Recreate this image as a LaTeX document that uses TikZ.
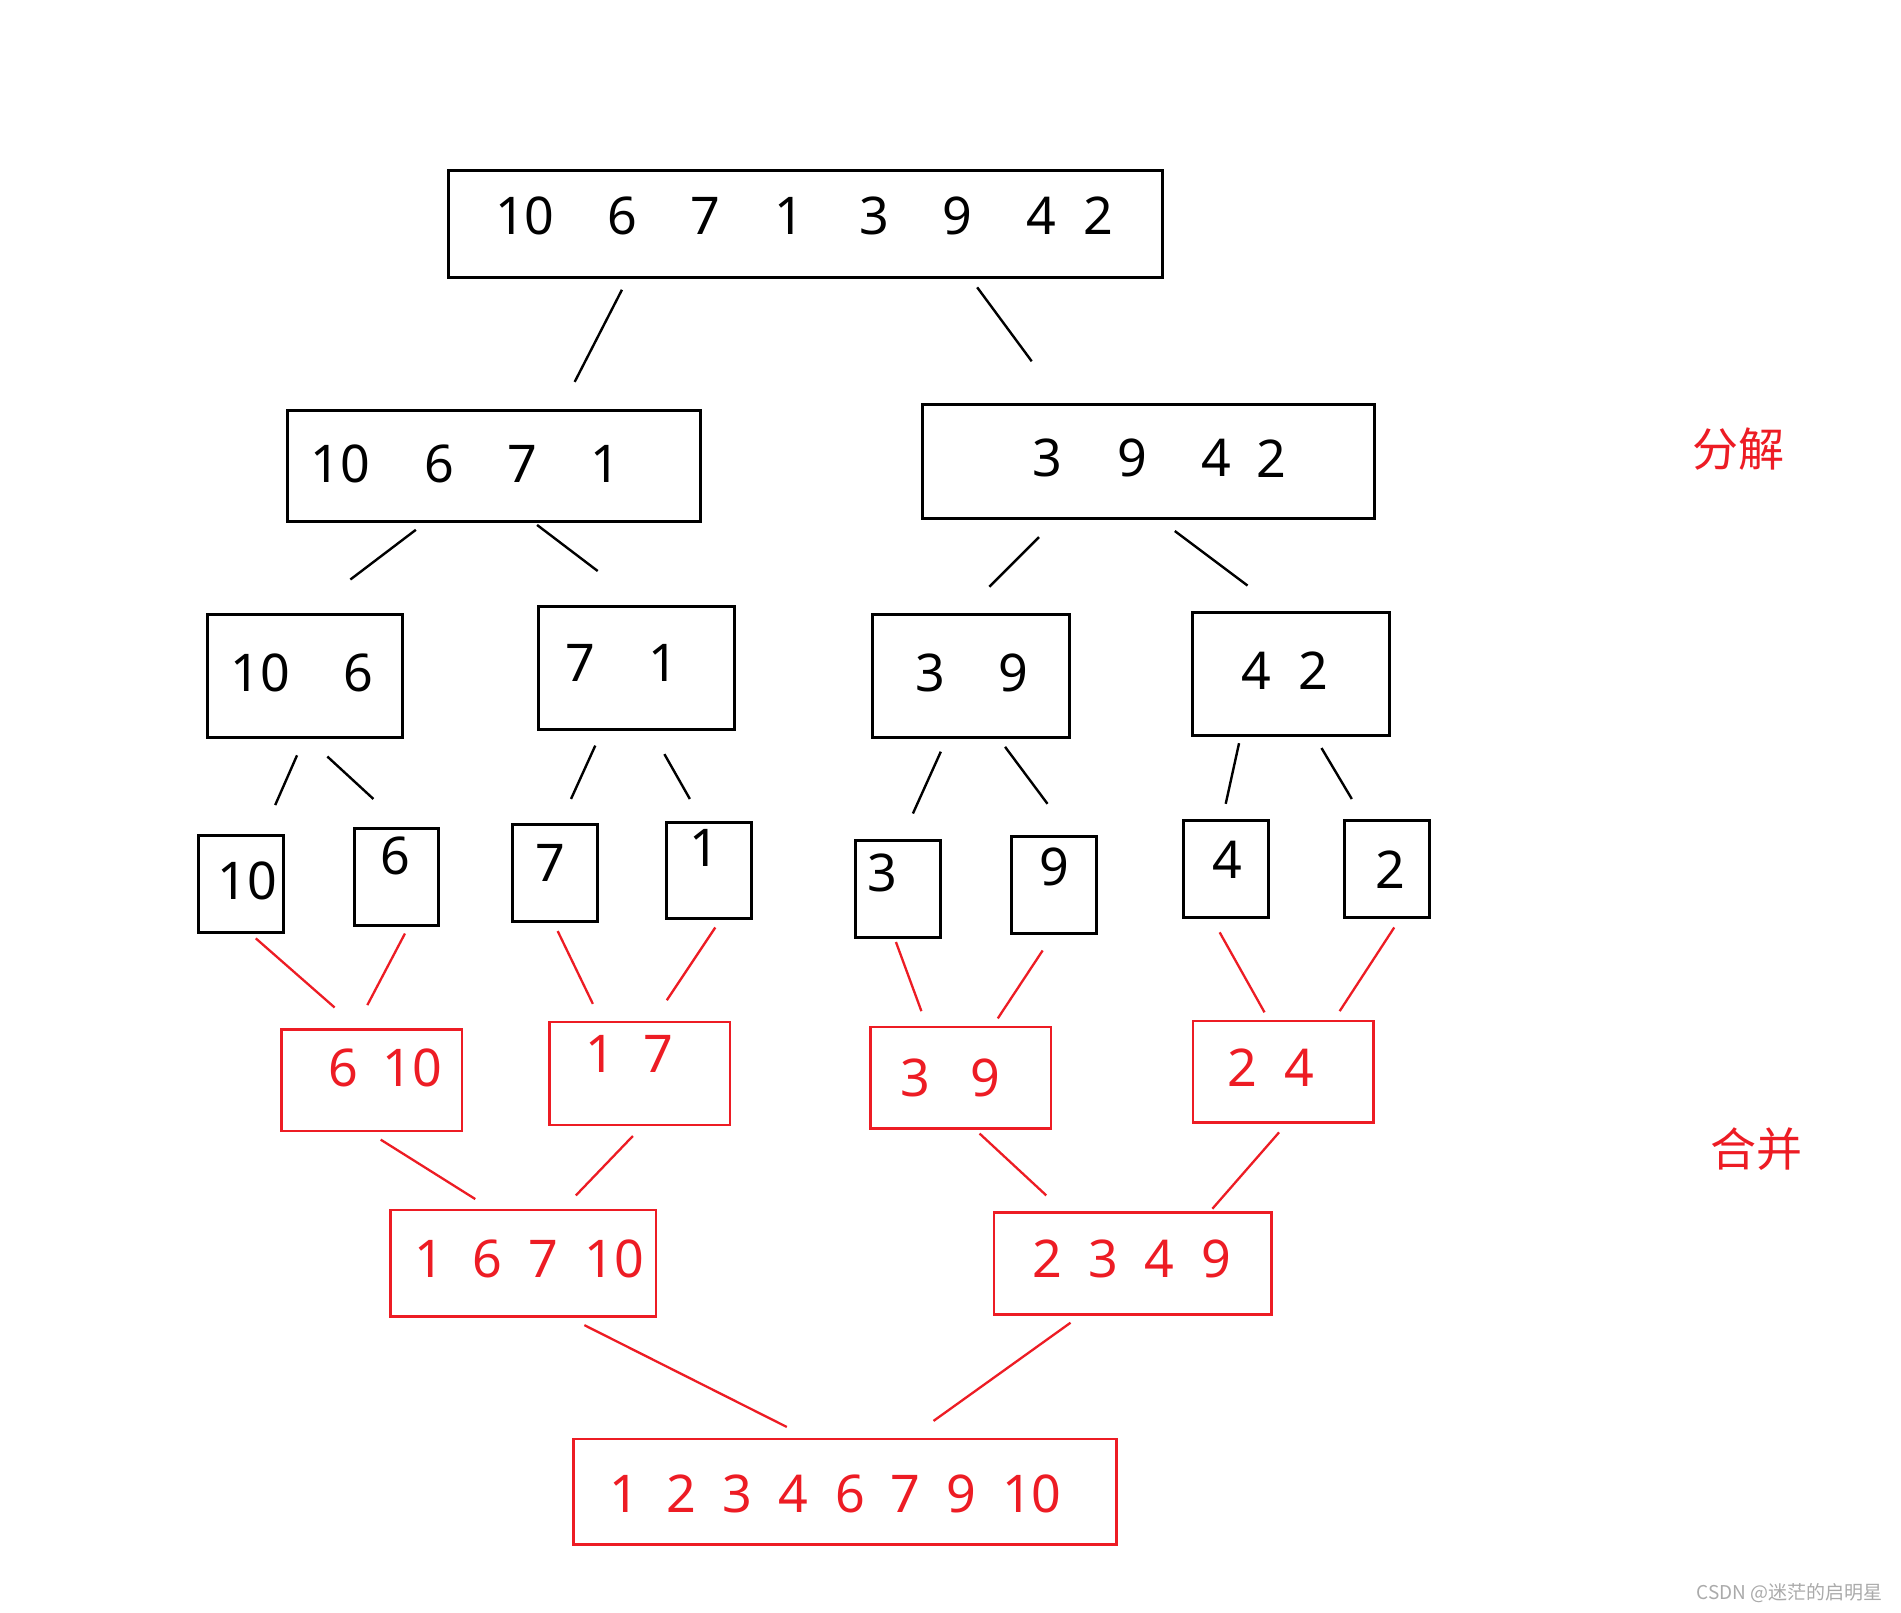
\documentclass[tikz,border=0pt]{standalone}
\usepackage{fontspec}
\setmainfont{Noto Sans}
\newfontfamily\cjk{Noto Sans CJK SC}
\usetikzlibrary{fit}
\definecolor{pred}{RGB}{237,28,36}
\definecolor{wmgray}{RGB}{170,170,170}
\tikzset{
  bbox/.style={draw=black,line width=3pt,inner sep=0pt,fit=#1},
  rbox/.style={draw=pred,line width=2.6pt,inner sep=0pt,fit=#1},
  bt/.style={inner sep=0pt,font=\fontsize{52}{56}\selectfont,text=black},
  rt/.style={inner sep=0pt,font=\fontsize{52}{56}\selectfont,text=pred},
  bl/.style={draw=black,line width=2.4pt},
  rl/.style={draw=pred,line width=2.3pt},
  lab/.style={inner sep=0pt,font=\cjk\fontsize{46}{50}\selectfont,text=pred},
}
\newcommand{\mkbox}[6]{%
  \coordinate (#1-a) at (#2,#3);
  \coordinate (#1-b) at (#4,#5);
  \node[#6={(#1-a)(#1-b)}] (#1) {};}
\newcommand{\seg}[6]{%
  \coordinate (#1-s) at (#2,#3);
  \coordinate (#1-e) at (#4,#5);
  \draw[#6] (#1-s) -- (#1-e);}
\begin{document}
\begin{tikzpicture}[x=1.2124pt,y=-1.2124pt]
\path[use as bounding box,fill=white] (0,0) rectangle (1568,1330);
% level 0
\mkbox{b0}{370}{141}{959}{229}{bbox}
\node[bt] (t0a) at (433,178) {10};
\node[bt] (t0b) at (513,178) {6};
\node[bt] (t0c) at (582,178) {7};
\node[bt] (t0d) at (651,178) {1};
\node[bt] (t0e) at (721,178) {3};
\node[bt] (t0f) at (790,178) {9};
\node[bt] (t0g) at (859,178) {4};
\node[bt] (t0h) at (906,178) {2};
\seg{l0a}{513}{239}{474}{315}{bl}
\seg{l0b}{806}{237}{851}{298}{bl}
% level 1
\mkbox{b1L}{237}{339}{578}{430}{bbox}
\node[bt] (t1a) at (281,383) {10};
\node[bt] (t1b) at (362,383) {6};
\node[bt] (t1c) at (431,383) {7};
\node[bt] (t1d) at (499,383) {1};
\mkbox{b1R}{761}{334}{1134}{428}{bbox}
\node[bt] (t1e) at (864,378) {3};
\node[bt] (t1f) at (934,378) {9};
\node[bt] (t1g) at (1003,378) {4};
\node[bt] (t1h) at (1049,378) {2};
\seg{l1a}{343}{437}{289}{478}{bl}
\seg{l1b}{443}{433}{493}{471}{bl}
\seg{l1c}{857}{443}{816}{484}{bl}
\seg{l1d}{969}{438}{1029}{483}{bl}
% level 2
\mkbox{b2a}{171}{507}{332}{608}{bbox}
\node[bt] (t2a) at (215,555) {10};
\node[bt] (t2b) at (296,555) {6};
\mkbox{b2b}{444}{500}{606}{602}{bbox}
\node[bt] (t2c) at (479,547) {7};
\node[bt] (t2d) at (547,547) {1};
\mkbox{b2c}{720}{507}{882}{608}{bbox}
\node[bt] (t2e) at (767,555) {3};
\node[bt] (t2f) at (836,555) {9};
\mkbox{b2d}{984}{505}{1146}{607}{bbox}
\node[bt] (t2g) at (1036,553) {4};
\node[bt] (t2h) at (1083,553) {2};
\seg{l2a}{245}{623}{227}{664}{bl}
\seg{l2b}{270}{624}{308}{659}{bl}
\seg{l2c}{491}{615}{471}{659}{bl}
\seg{l2d}{548}{622}{569}{659}{bl}
\seg{l2e}{776}{620}{753}{671}{bl}
\seg{l2f}{829}{616}{864}{663}{bl}
\seg{l2g}{1022}{613}{1011}{663}{bl}
\seg{l2h}{1090}{617}{1115}{659}{bl}
% level 3
\mkbox{b3a}{164}{689}{234}{769}{bbox}
\node[bt] (t3a) at (204,727) {10};
\mkbox{b3b}{292}{683}{362}{763}{bbox}
\node[bt] (t3b) at (326,706) {6};
\mkbox{b3c}{423}{680}{493}{760}{bbox}
\node[bt] (t3c) at (454,712) {7};
\mkbox{b3d}{550}{678}{620}{758}{bbox}
\node[bt] (t3d) at (581,699) {1};
\mkbox{b3e}{706}{693}{776}{773}{bbox}
\node[bt] (t3e) at (728,720) {3};
\mkbox{b3f}{834}{690}{904}{770}{bbox}
\node[bt] (t3f) at (870,715) {9};
\mkbox{b3g}{976}{677}{1046}{757}{bbox}
\node[bt] (t3g) at (1012,709) {4};
\mkbox{b3h}{1109}{677}{1179}{757}{bbox}
\node[bt] (t3h) at (1147,717) {2};
\seg{l3a}{211}{774}{276}{831}{rl}
\seg{l3b}{334}{770}{303}{829}{rl}
\seg{l3c}{460}{768}{489}{828}{rl}
\seg{l3d}{590}{765}{550}{825}{rl}
\seg{l3e}{739}{777}{760}{834}{rl}
\seg{l3f}{860}{784}{823}{840}{rl}
\seg{l3g}{1006}{769}{1043}{835}{rl}
\seg{l3h}{1150}{765}{1105}{834}{rl}
% level 4
\mkbox{b4a}{232}{849}{381}{933}{rbox}
\node[rt] (t4a) at (283,881) {6};
\node[rt] (t4b) at (340,881) {10};
\mkbox{b4b}{453}{843}{602}{928}{rbox}
\node[rt] (t4c) at (495,869) {1};
\node[rt] (t4d) at (543,869) {7};
\mkbox{b4c}{718}{847}{867}{931}{rbox}
\node[rt] (t4e) at (755,889) {3};
\node[rt] (t4f) at (813,889) {9};
\mkbox{b4d}{984}{842}{1133}{926}{rbox}
\node[rt] (t4g) at (1025,881) {2};
\node[rt] (t4h) at (1072,881) {4};
\seg{l4a}{314}{940}{392}{989}{rl}
\seg{l4b}{522}{937}{475}{986}{rl}
\seg{l4c}{808}{935}{863}{986}{rl}
\seg{l4d}{1055}{934}{1000}{997}{rl}
% level 5
\mkbox{b5a}{322}{998}{541}{1086}{rbox}
\node[rt] (t5a) at (354,1038) {1};
\node[rt] (t5b) at (402,1038) {6};
\node[rt] (t5c) at (448,1038) {7};
\node[rt] (t5d) at (507,1038) {10};
\mkbox{b5b}{820}{1000}{1049}{1084}{rbox}
\node[rt] (t5e) at (864,1038) {2};
\node[rt] (t5f) at (910,1038) {3};
\node[rt] (t5g) at (956,1038) {4};
\node[rt] (t5h) at (1003,1038) {9};
\seg{l5a}{482}{1093}{649}{1177}{rl}
\seg{l5b}{883}{1091}{770}{1172}{rl}
% level 6
\mkbox{b6}{473}{1187}{921}{1274}{rbox}
\node[rt] (t6a) at (515,1232) {1};
\node[rt] (t6b) at (562,1232) {2};
\node[rt] (t6c) at (608,1232) {3};
\node[rt] (t6d) at (654,1232) {4};
\node[rt] (t6e) at (701,1232) {6};
\node[rt] (t6f) at (747,1232) {7};
\node[rt] (t6g) at (793,1232) {9};
\node[rt] (t6h) at (851,1232) {10};
% labels
\node[lab] (split) at (1434,370) {分解};
\node[lab] (merge) at (1449,948) {合并};
\node[inner sep=0pt,font=\cjk\fontsize{19}{21}\selectfont,text=wmgray] (wm) at (1476,1314) {CSDN @迷茫的启明星};
\end{tikzpicture}
\end{document}
